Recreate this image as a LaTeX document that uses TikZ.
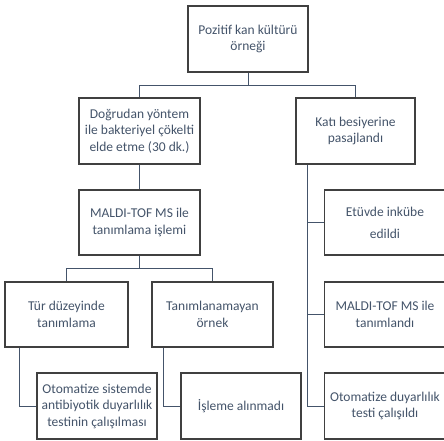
\documentclass[tikz,border=0pt]{standalone}
\usepackage{fontspec}
\setmainfont{Carlito}
\definecolor{txt}{HTML}{44546A}
\definecolor{bord}{HTML}{404040}
\definecolor{conn}{HTML}{44546A}
\begin{document}
\begin{tikzpicture}[x=1pt,y=-1pt,
  box/.style={draw=bord,line width=1.1pt,fill=white,rectangle,align=center,text=txt,
    font=\fontsize{13.5}{16.5}\selectfont,inner sep=0pt,minimum height=65pt},
  conline/.style={draw=conn,line width=0.9pt}]
\useasboundingbox (0,0) rectangle (444,441);
\node[box,minimum width=120pt,minimum height=66pt] (top) at (248,39) {Pozitif kan kültürü\\örneği};
\node[box,minimum width=121pt,minimum height=66pt] (d) at (139.5,131) {Doğrudan yöntem\\ile bakteriyel çökelti\\elde etme (30 dk.)};
\node[box,minimum width=119pt,minimum height=66pt] (k) at (355.5,131) {Katı besiyerine\\pasajlandı};
\node[box,minimum width=121pt] (m) at (139.5,222.5) {MALDI-TOF MS ile\\tanımlama işlemi};
\node[box,minimum width=121pt,font=\fontsize{13.5}{22}\selectfont] (e) at (385,222.5) {Etüvde inkübe\\edildi};
\node[box,minimum width=123pt] (t) at (66.5,314.5) {Tür düzeyinde\\tanımlama};
\node[box,minimum width=121pt] (n) at (212.5,314.5) {Tanımlanamayan\\örnek};
\node[box,minimum width=121pt] (mt) at (385,314.5) {MALDI-TOF MS ile\\tanımlandı};
\node[box,minimum width=120pt,minimum height=66pt] (o1) at (97,406) {Otomatize sistemde\\antibiyotik duyarlılık\\testinin çalışılması};
\node[box,minimum width=120pt,minimum height=66pt] (i) at (241,406) {İşleme alınmadı};
\node[box,minimum width=121pt,minimum height=66pt] (o2) at (385,406) {Otomatize duyarlılık\\testi çalışıldı};
% connectors
\draw[conline] (top.south) -- ++(0,13) -| (d.north);
\draw[conline] (top.south) -- ++(0,13) -| (k.north);
\draw[conline] (d.south) -- (m.north);
\draw[conline] (m.south) -- ++(0,13) -| (t.north);
\draw[conline] (m.south) -- ++(0,13) -| (n.north);
\coordinate (tt) at ([xshift=15pt]t.south west);
\coordinate (nt) at ([xshift=12pt]n.south west);
\coordinate (kt) at ([xshift=12pt]k.south west);
\draw[conline] (tt) |- (o1.west);
\draw[conline] (nt) |- (i.west);
\draw[conline] (kt) |- (o2.west);
\draw[conline] (e.west) -- (e.west -| kt);
\draw[conline] (mt.west) -- (mt.west -| kt);
\end{tikzpicture}
\end{document}
